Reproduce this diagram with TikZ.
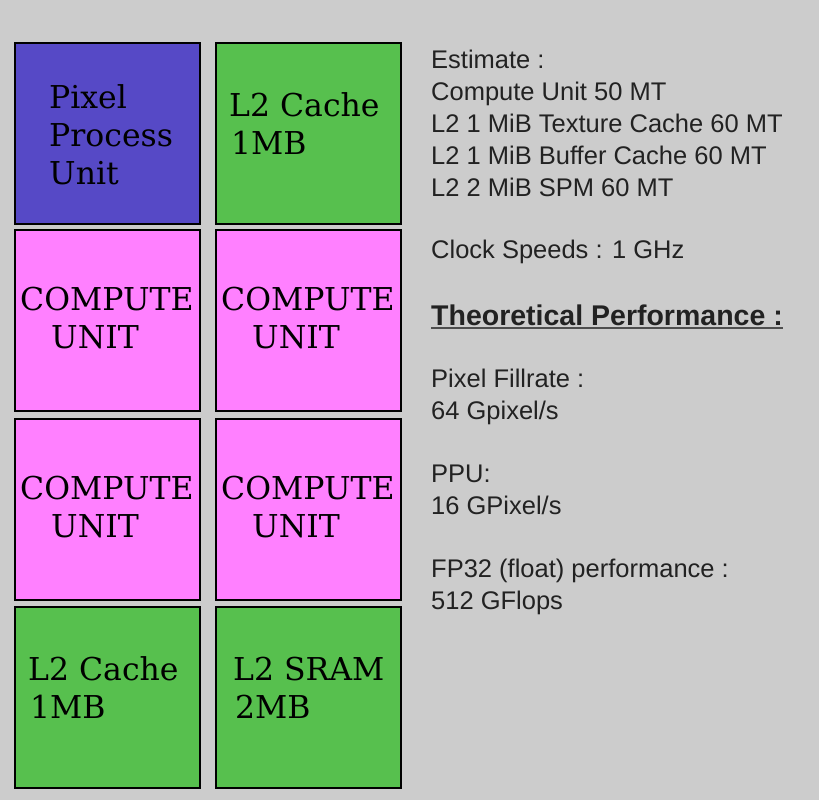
\documentclass[tikz,border=0pt]{standalone}
\usepackage{fontspec}
\setmainfont{Liberation Sans}
\newfontfamily\boxfont{DejaVu Serif}
\usetikzlibrary{positioning}
\definecolor{ppublue}{HTML}{5649C6}
\definecolor{cachegreen}{HTML}{57C04E}
\definecolor{cupink}{HTML}{FF80FF}
\definecolor{bggray}{HTML}{CCCCCC}
\definecolor{txtgray}{HTML}{222222}

\begin{document}
\begin{tikzpicture}[x=1pt,y=-1pt,
  unitbox/.style={draw=black,line width=1.7pt,minimum width=185pt,minimum height=181pt,anchor=north west,inner sep=0pt,outer sep=0pt},
  boxtext/.style={font=\boxfont\fontsize{31.5}{38}\selectfont,align=left,anchor=base west,inner sep=0pt},
  note/.style={font=\fontsize{25.5}{32}\selectfont,text=txtgray,align=left,anchor=base west,inner sep=0pt}]
\fill[bggray] (0,0) rectangle (819,800);
\useasboundingbox (0,0) rectangle (819,800);
% block grid
\node[unitbox,fill=ppublue] (ppu) at (15,43) {};
\node[unitbox,fill=cachegreen] (l2top) at (216,43) {};
\node[unitbox,fill=cupink] (cua) at (15,229.7) {};
\node[unitbox,fill=cupink] (cub) at (216,229.7) {};
\node[unitbox,fill=cupink] (cuc) at (15,419) {};
\node[unitbox,fill=cupink] (cud) at (216,419) {};
\node[unitbox,fill=cachegreen] (l2bot) at (15,607) {};
\node[unitbox,fill=cachegreen] (sram) at (216,607) {};
% block labels (base = last line)
\node[boxtext] (ppulbl) at (49,184) {Pixel\\Process\\Unit};
\node[boxtext] (l2toplbl) at (229,154) {L2 Cache\\\hspace*{2pt}1MB};
\node[boxtext] (cualbl) at (20,348) {COMPUTE\\\hspace*{31pt}UNIT};
\node[boxtext] (cublbl) at (221,348) {COMPUTE\\\hspace*{31pt}UNIT};
\node[boxtext] (cuclbl) at (20,537) {COMPUTE\\\hspace*{31pt}UNIT};
\node[boxtext] (cudlbl) at (221,537) {COMPUTE\\\hspace*{31pt}UNIT};
\node[boxtext] (l2botlbl) at (28,718) {L2 Cache\\\hspace*{2pt}1MB};
\node[boxtext] (sramlbl) at (233,718) {L2 SRAM\\\hspace*{2pt}2MB};
% side notes
\node[note] (est) at (431,196) {Estimate :\\Compute Unit 50 MT\\L2 1 MiB Texture Cache 60 MT\\L2 1 MiB Buffer Cache 60 MT\\L2 2 MiB SPM 60 MT};
\node[note] (clock) at (431,258) {Clock Speeds : 1 GHz};
\node[note,font=\bfseries\fontsize{28.5}{32}\selectfont] (perf) at (431,325) {Theoretical Performance :};
\draw[txtgray!80,line width=1.8pt] ([yshift=-3pt]perf.base west) -- ([yshift=-3pt]perf.base east);
\node[note] (fill) at (431,419) {Pixel Fillrate :\\64 Gpixel/s};
\node[note] (ppurate) at (431,514) {PPU:\\16 GPixel/s};
\node[note] (flops) at (431,609) {FP32 (float) performance :\\512 GFlops};
\end{tikzpicture}
\end{document}
